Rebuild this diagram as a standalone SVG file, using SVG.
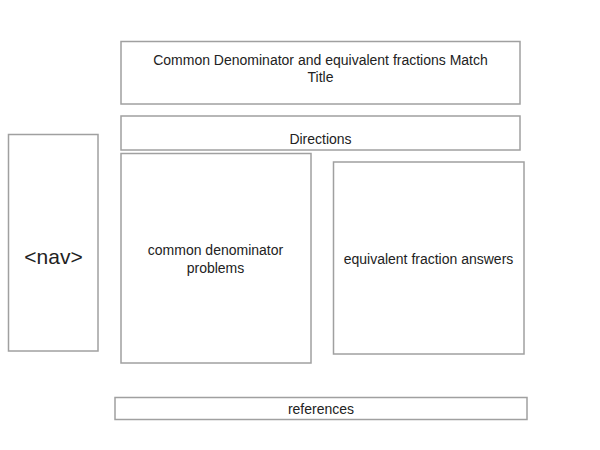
<svg xmlns="http://www.w3.org/2000/svg" width="600" height="450" viewBox="0 0 600 450">
<style>
rect{fill:#fff;stroke:#a0a0a0;stroke-width:1.5}
text{font-family:"Liberation Sans",Arial,sans-serif;font-size:14px;fill:#222;text-anchor:middle}
.big{font-size:21px}
</style>
<rect x="0" y="0" width="600" height="450" style="stroke:none"/>
<g id="title"><rect x="121" y="41.5" width="399" height="62.5"/><text x="320.5" y="65">Common Denominator and equivalent fractions Match</text><text x="320.5" y="82">Title</text></g>
<g id="directions"><rect x="121" y="116" width="399" height="34"/><text x="320.5" y="144">Directions</text></g>
<g id="nav"><rect x="8.5" y="134.5" width="89.5" height="216.5"/><text class="big" x="53.5" y="264">&lt;nav&gt;</text></g>
<g id="problems"><rect x="121" y="153.5" width="190" height="209.5"/><text x="215.5" y="255">common denominator</text><text x="215.5" y="273">problems</text></g>
<g id="answers"><rect x="333.5" y="162" width="190.5" height="192"/><text x="428.5" y="264">equivalent fraction answers</text></g>
<g id="references"><rect x="115" y="397.5" width="412" height="22"/><text x="321" y="414">references</text></g>
<g id="connectors"></g>
</svg>
